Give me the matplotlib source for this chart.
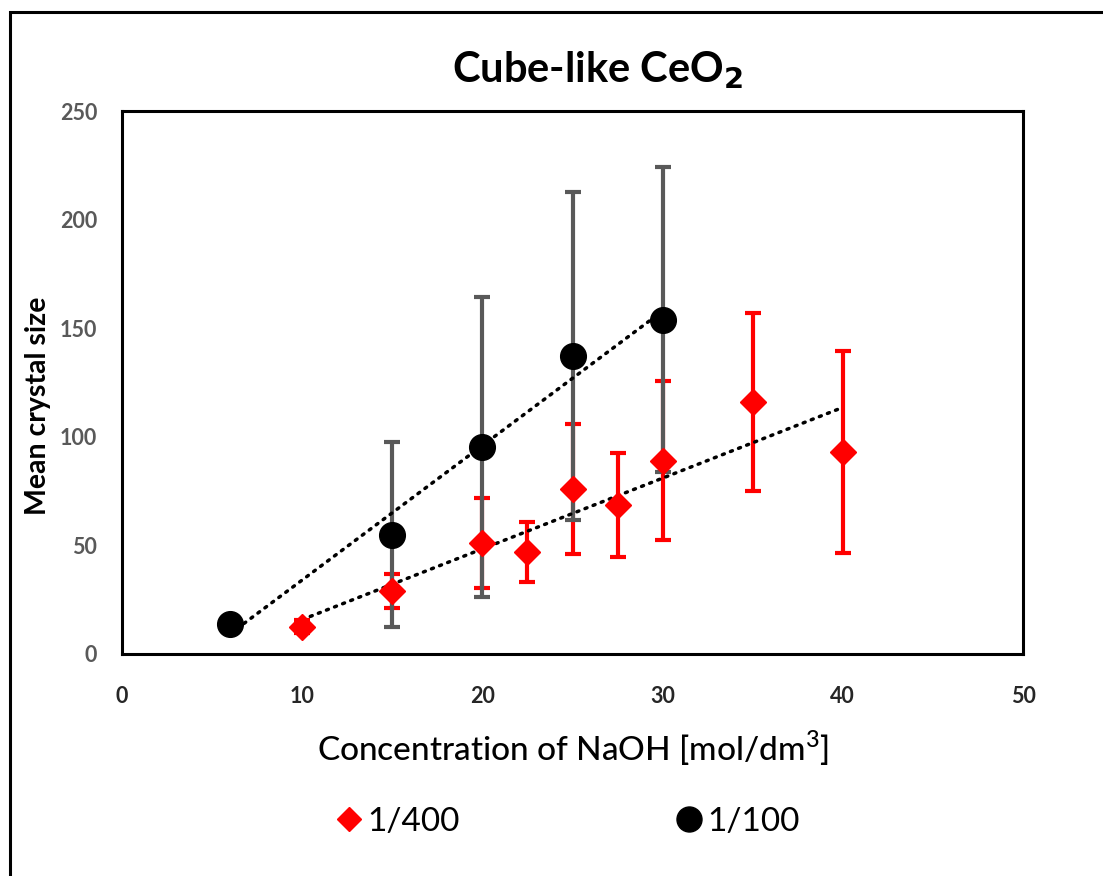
import numpy as np
import matplotlib
matplotlib.use("Agg")
import matplotlib.pyplot as plt
from matplotlib.lines import Line2D
from matplotlib.patches import Rectangle

plt.rcParams['font.family'] = ['Lato', 'DejaVu Sans']

# Molar ratio 1/400
naoh_400 = [10, 15, 20, 22.5, 25, 27.5, 30, 35, 40]
size_400 = [12.5, 29.0, 51.2, 47.0, 76.0, 68.5, 89.0, 116.0, 93.0]
err_400 = [3.0, 8.0, 20.7, 14.0, 30.0, 24.0, 36.5, 41.0, 46.5]

# Molar ratio 1/100
naoh_100 = [6, 15, 20, 25, 30]
size_100 = [13.7, 55.0, 95.4, 137.0, 154.0]
err_100 = [3.0, 42.6, 69.0, 75.5, 70.0]

x_ticks = [0, 10, 20, 30, 40, 50]
y_ticks = [0, 50, 100, 150, 200, 250]
labels = ["1/400", "1/100"]

W, H = 1103, 876
fig = plt.figure(figsize=(W / 100, H / 100), dpi=100)
ax = fig.add_axes([122 / W, 1 - 654 / H, (1023 - 122) / W, (654 - 111) / H])

red = "#FF0000"
grey = "#595959"

# error bars (red first, grey on top)
ax.errorbar(naoh_400, size_400, yerr=err_400, fmt="none", ecolor=red,
            elinewidth=3.0, capsize=6, capthick=3.0, zorder=2)
ax.errorbar(naoh_100, size_100, yerr=err_100, fmt="none", ecolor=grey,
            elinewidth=3.0, capsize=6, capthick=3.0, zorder=3)

# linear trend lines
for xs, ys in ((naoh_100, size_100), (naoh_400, size_400)):
    k, b = np.polyfit(xs, ys, 1)
    xx = np.array([min(xs), max(xs)])
    ax.plot(xx, k * xx + b, color="black", lw=2.5,
            linestyle=(0, (0.6, 1.9)), dash_capstyle="round", zorder=4)

# markers
ax.plot(naoh_100, size_100, "o", color="black", ms=18.5, zorder=5)
ax.plot(naoh_400, size_400, "D", color=red, ms=13, zorder=6)

ax.set_xlim(0, 50)
ax.set_ylim(0, 250)
ax.set_xticks(x_ticks)
ax.set_yticks(y_ticks)
ax.tick_params(axis="both", length=0, labelsize=15.5)
ax.tick_params(axis="x", pad=23, labelcolor="#262626")
ax.tick_params(axis="y", pad=18, labelcolor=grey)
for t in ax.get_xticklabels() + ax.get_yticklabels():
    t.set_fontweight("bold")
for s in ax.spines.values():
    s.set_linewidth(2.2)
    s.set_color("black")

fig.text(598 / W, 1 - 70 / H, r"Cube-like CeO$_\mathbf{2}$", ha="center",
         va="center", fontsize=30, fontweight="bold")
fig.text(38 / W, 1 - 406 / H, "Mean crystal size", rotation=90,
         ha="center", va="center", fontsize=20.5, fontweight="bold")
fig.text(573 / W, 1 - 748 / H, r"Concentration of NaOH [mol/dm$^\mathregular{3}$]",
         ha="center", va="center", fontsize=24, fontweight="medium")

handles = [
    Line2D([], [], marker="D", color=red, ls="none", ms=12),
    Line2D([], [], marker="o", color="black", ls="none", ms=18),
]
fig.legend(handles, labels, loc="center", bbox_to_anchor=(566 / W, 1 - 822 / H),
           ncol=2, frameon=False, fontsize=24, handletextpad=0.05,
           columnspacing=6.4, handlelength=1.0)

# outer frame around the chart
fig.patches.append(Rectangle((10 / W, -0.05), 1.2, 1 - 12 / H + 0.05,
                             transform=fig.transFigure, fill=False,
                             lw=2.2, ec="black"))

fig.savefig("out.png", dpi=100)
